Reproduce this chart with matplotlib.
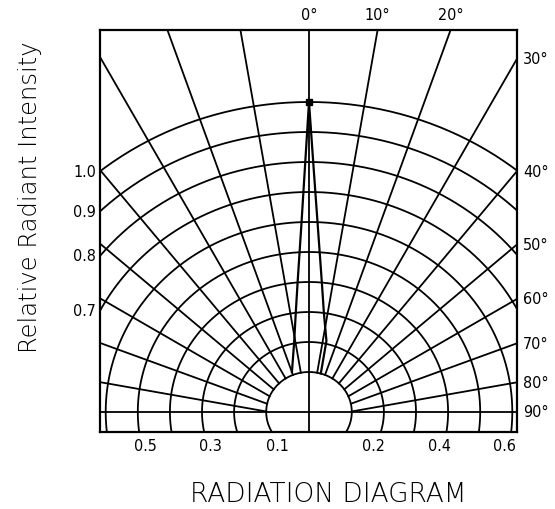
import matplotlib
matplotlib.use("Agg")
import matplotlib.pyplot as plt
import numpy as np

# grid levels (relative intensity) and angle ticks
levels = [0.1, 0.2, 0.3, 0.4, 0.5, 0.6, 0.7, 0.8, 0.9, 1.0]
angles = [10, 20, 30, 40, 50, 60, 70, 80]
top_ticks = [0, 10, 20]
right_ticks = [30, 40, 50, 60, 70, 80, 90]
left_labels = [1.0, 0.9, 0.8, 0.7]
bottom_left = [0.5, 0.3, 0.1]
bottom_right = [0.2, 0.4, 0.6]

# radiation lobe (deg, relative intensity)
lobe_deg = [-21.8, -11.5, -7.1, -4.7, -2.1, -0.8, 0.0, 0.9, 2.4, 5.3, 8.0, 12.9, 16.0]
lobe_int = [0.11, 0.20, 0.30, 0.40, 0.60, 0.80, 1.00, 0.80, 0.60, 0.40, 0.30, 0.21, 0.10]

# diagram geometry (the printed grid is slightly wider than a circle)
R0, RS, XS = 10.0, 300.0, 1.07
OY = -7.0  # spokes radiate from a point a bit below the arc centre
XL, XR, YB, YT = -209, 208, -20, 382


def rad(i):
    return R0 + RS * i


def to_xy(deg, i):
    th = np.radians(np.asarray(deg, dtype=float))
    r = R0 + RS * np.asarray(i, dtype=float)
    return XS * r * np.sin(th), r * np.cos(th)


fig = plt.figure(figsize=(5.55, 5.10), dpi=100)
ax = fig.add_axes([100 / 555, (510 - 433) / 510, 417 / 555, 402 / 510])
ax.set_xlim(XL, XR)
ax.set_ylim(YB, YT)
ax.set_xticks([])
ax.set_yticks([])
for s in ax.spines.values():
    s.set_linewidth(1.6)

lw = 1.3
# arcs
t = np.linspace(0, 2 * np.pi, 600)
for lv in levels:
    b = rad(lv)
    ax.plot(XS * b * np.cos(t), b * np.sin(t), color="black", lw=lw)

# spokes, starting on the inner half circle
a0, b0 = XS * rad(levels[0]), rad(levels[0])
for d in angles:
    for sgn in (-1, 1):
        th = np.radians(d)
        s, c = sgn * np.sin(th), np.cos(th)
        A = s**2 / a0**2 + c**2 / b0**2
        B = 2 * OY * c / b0**2
        C = OY**2 / b0**2 - 1
        t0 = (-B + np.sqrt(B**2 - 4 * A * C)) / (2 * A)
        ax.plot([t0 * s, 700 * s], [OY + t0 * c, OY + 700 * c], color="black", lw=lw)
ax.plot([0, 0], [YB, YT], color="black", lw=lw)
ax.plot([XL, XR], [0, 0], color="black", lw=lw)

# lobe
lx, ly = to_xy(lobe_deg, lobe_int)
ax.plot(lx, ly, color="black", lw=1.6)
tx, ty = to_xy([0], [1.0])
ax.plot(tx, ty, marker="s", ms=5, color="black")

fnt = dict(fontsize=11.5, family="DejaVu Sans", fontstretch="condensed", clip_on=False)

for d in top_ticks:
    x = (YT - OY) * np.tan(np.radians(d))
    ax.text(x, YT + 16, f"{d}°", ha="center", va="center", **fnt)
for d in right_ticks:
    if d == 90:
        y = 0
    else:
        y = OY + XR / np.tan(np.radians(d))
    ax.text(XR + 6, y, f"{d}°", ha="left", va="center", **fnt)
for lv in left_labels:
    b = rad(lv)
    y = b * np.sqrt(1 - (XL / (XS * b)) ** 2)
    ax.text(XL - 4, y, f"{lv:.1f}", ha="right", va="center", **fnt)
for lv in bottom_left:
    b = rad(lv)
    x = -XS * b * np.sqrt(1 - (YB / b) ** 2)
    ax.text(x + 6, YB - 14, f"{lv:.1f}", ha="center", va="center", **fnt)
for lv in bottom_right:
    b = rad(lv)
    x = XS * b * np.sqrt(1 - (YB / b) ** 2)
    ax.text(x - 7, YB - 14, f"{lv:.1f}", ha="center", va="center", **fnt)

fig.text(30 / 555, 1 - 197 / 510, "Relative Radiant Intensity", rotation=90,
         ha="center", va="center", fontsize=17.5, fontweight="light")
fig.text(328 / 555, 1 - 495 / 510, "RADIATION DIAGRAM", ha="center", va="center",
         fontsize=19, fontweight="light")

fig.savefig("out.png", dpi=100, facecolor="white")
